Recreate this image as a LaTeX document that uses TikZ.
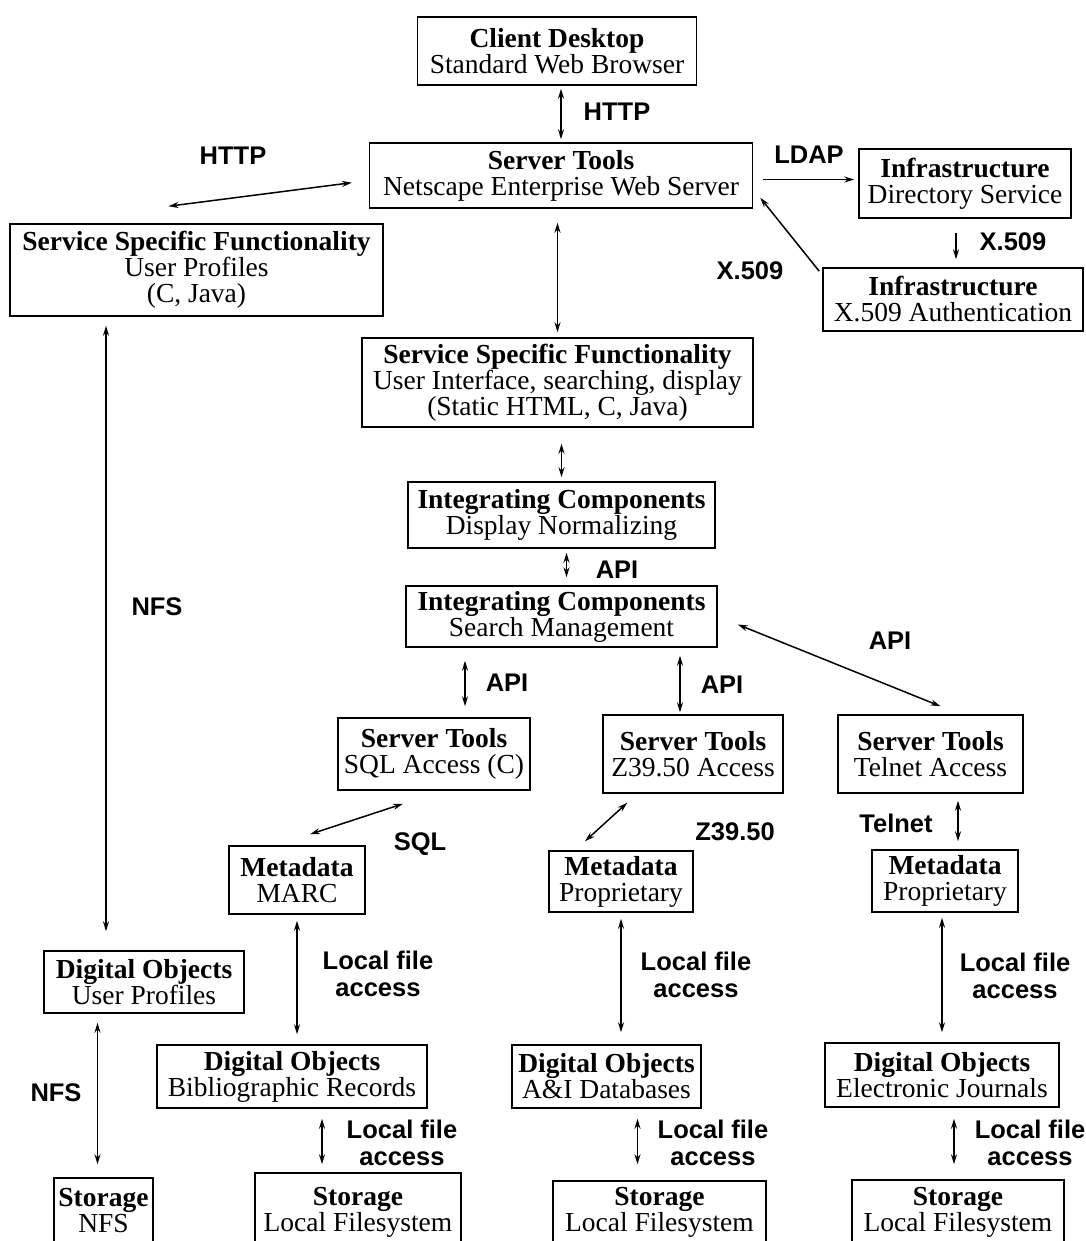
\documentclass[tikz,border=0pt]{standalone}
\usepackage{fontspec}
\setmainfont{Liberation Serif}
\newfontfamily\labelfont{Liberation Sans}
\usetikzlibrary{arrows.meta}

\begin{document}
\begin{tikzpicture}[x=1pt, y=-1pt,
    box/.style={draw, line width=1.5pt, align=center, inner sep=0pt, font=\fontsize{27.5}{26}\selectfont},
    lab/.style={font=\labelfont\bfseries\fontsize{25.5}{27}\selectfont, align=center},
    conn/.style={{Stealth[length=10pt,width=6pt]}-{Stealth[length=10pt,width=6pt]}, line width=1.5pt},
    oneway/.style={-{Stealth[length=10pt,width=6pt]}, line width=1.5pt}]
    \useasboundingbox (0,0) rectangle (1085,1241);
    % boxes
    \node [box, minimum width=279pt, minimum height=68pt] (client) at (557,51) {\textbf{Client Desktop}\\Standard Web Browser};
    \node [box, minimum width=383pt, minimum height=65pt] (webserver) at (561,175.5) {\textbf{Server Tools}\\Netscape Enterprise Web Server};
    \node [box, minimum width=373pt, minimum height=92pt] (ssfUser) at (196.5,270) {\textbf{Service Specific Functionality}\\User Profiles\\(C, Java)};
    \node [box, minimum width=212pt, minimum height=69pt] (infraDir) at (965,183.5) {\textbf{Infrastructure}\\Directory Service};
    \node [box, minimum width=260pt, minimum height=63pt] (infraX) at (953,299.5) {\textbf{Infrastructure}\\X.509 Authentication};
    \node [box, minimum width=391pt, minimum height=89pt] (ssfUI) at (557.5,382.5) {\textbf{Service Specific Functionality}\\User Interface, searching, display\\(Static HTML, C, Java)};
    \node [box, minimum width=307pt, minimum height=66pt] (icDisplay) at (561.5,515) {\textbf{Integrating Components}\\Display Normalizing};
    \node [box, minimum width=311pt, minimum height=61pt] (icSearch) at (561.5,616.5) {\textbf{Integrating Components}\\Search Management};
    \node [box, minimum width=192pt, minimum height=72pt] (stSQL) at (434,754) {\textbf{Server Tools}\\SQL Access (C)};
    \node [box, minimum width=180pt, minimum height=78pt] (stZ) at (693,754) {\textbf{Server Tools}\\Z39.50 Access};
    \node [box, minimum width=185pt, minimum height=78pt] (stTelnet) at (930.5,754) {\textbf{Server Tools}\\Telnet Access};
    \node [box, minimum width=136pt, minimum height=68pt] (mdMARC) at (297,880) {\textbf{Metadata}\\MARC};
    \node [box, minimum width=144pt, minimum height=61pt] (mdZ) at (621,881.5) {\textbf{Metadata}\\Proprietary};
    \node [box, minimum width=146pt, minimum height=62pt] (mdTelnet) at (945,881) {\textbf{Metadata}\\Proprietary};
    \node [box, minimum width=200pt, minimum height=62pt] (doUser) at (144,982) {\textbf{Digital Objects}\\User Profiles};
    \node [box, minimum width=270pt, minimum height=63pt] (doBib) at (292,1076.5) {\textbf{Digital Objects}\\Bibliographic Records};
    \node [box, minimum width=189pt, minimum height=63pt] (doAI) at (606.5,1076.5) {\textbf{Digital Objects}\\A\&I Databases};
    \node [box, minimum width=234pt, minimum height=64pt] (doEJ) at (942,1075) {\textbf{Digital Objects}\\Electronic Journals};
    \node [box, minimum width=99pt, minimum height=66pt] (stoNFS) at (103.5,1211) {\textbf{Storage}\\NFS};
    \node [box, minimum width=206pt, minimum height=78pt] (stoLocalA) at (358,1212) {\textbf{Storage}\\Local Filesystem};
    \node [box, minimum width=213pt, minimum height=62pt] (stoLocalB) at (659.5,1212) {\textbf{Storage}\\Local Filesystem};
    \node [box, minimum width=212pt, minimum height=64pt] (stoLocalC) at (958,1212) {\textbf{Storage}\\Local Filesystem};
    % labels
    \node [lab] (lHttpTop) at (617,112) {HTTP};
    \node [lab] (lHttpLeft) at (233,156) {HTTP};
    \node [lab] (lLdap) at (809,155) {LDAP};
    \node [lab] (lXDir) at (1013,242) {X.509};
    \node [lab] (lXAuth) at (750,271) {X.509};
    \node [lab] (lApiA) at (617,570) {API};
    \node [lab] (lApiB) at (507,683) {API};
    \node [lab] (lApiC) at (722,685) {API};
    \node [lab] (lApiD) at (890,641) {API};
    \node [lab] (lSql) at (420,844) {SQL};
    \node [lab] (lZ) at (735,832) {Z39.50};
    \node [lab] (lTelnet) at (896,823) {Telnet};
    \node [lab] (lNfsA) at (157,607) {NFS};
    \node [lab] (lNfsB) at (56,1093) {NFS};
    \node [lab] (lLocalA) at (378,974) {Local file\\access};
    \node [lab] (lLocalB) at (696,975) {Local file\\access};
    \node [lab] (lLocalC) at (1015,976) {Local file\\access};
    \node [lab] (lLocalD) at (402,1143) {Local file\\access};
    \node [lab] (lLocalE) at (713,1143) {Local file\\access};
    \node [lab] (lLocalF) at (1030,1143) {Local file\\access};
    % connectors
    \draw [conn, shorten <=3pt, shorten >=3pt] ([xshift=4pt]client.south) -- ([xshift=4pt]client.south |- webserver.north);
    \draw [conn, shorten <=17pt] ([yshift=-5pt]webserver.west) -- ([xshift=-28pt,yshift=17pt]ssfUser.north);
    \draw [oneway, shorten <=10pt, shorten >=4pt] ([yshift=-4pt]webserver.east) -- ([yshift=-4pt]webserver.east -| infraDir.west);
    \draw [oneway, shorten <=14pt, shorten >=8pt] ([xshift=-9pt]infraDir.south) -- ([xshift=-9pt]infraDir.south |- infraX.north);
    \draw [oneway] ([xshift=-3pt,yshift=-4pt]infraX.north west) -- ([xshift=7pt,yshift=11pt]webserver.south east);
    \draw [conn, shorten <=14pt, shorten >=5pt] (ssfUI.north |- webserver.south) -- (ssfUI.north);
    \draw [conn, shorten <=16pt, shorten >=4pt] (icDisplay.north |- ssfUI.south) -- (icDisplay.north);
    \draw [conn, shorten <=4pt, shorten >=8pt] ([xshift=5pt]icDisplay.south) -- ([xshift=5pt]icDisplay.south |- icSearch.north);
    \draw [conn, shorten <=13pt, shorten >=11pt] ([xshift=31pt]stSQL.north |- icSearch.south) -- ([xshift=31pt]stSQL.north);
    \draw [conn, shorten <=8pt, shorten >=2pt] ([xshift=-13pt]stZ.north |- icSearch.south) -- ([xshift=-13pt]stZ.north);
    \draw [conn] ([xshift=20pt,yshift=-8pt]icSearch.east) -- ([xshift=10pt,yshift=8pt]stTelnet.north);
    \draw [conn] ([xshift=-31pt,yshift=-13pt]stSQL.south) -- ([xshift=13pt,yshift=11pt]mdMARC.north);
    \draw [conn] ([xshift=25pt,yshift=-9pt]stZ.south west) -- ([xshift=-36pt,yshift=9pt]mdZ.north);
    \draw [conn, shorten <=7pt, shorten >=8pt] ([xshift=13pt]mdTelnet.north |- stTelnet.south) -- ([xshift=13pt]mdTelnet.north);
    \draw [conn, shorten <=6pt, shorten >=10pt] (mdMARC.south) -- (mdMARC.south |- doBib.north);
    \draw [conn, shorten <=6pt, shorten >=12pt] (mdZ.south) -- (mdZ.south |- doAI.north);
    \draw [conn, shorten <=5pt, shorten >=10pt] (doEJ.north |- mdTelnet.south) -- (doEJ.north);
    \draw [conn, shorten <=9pt, shorten >=19pt] ([xshift=-38pt]doUser.north |- ssfUser.south) -- ([xshift=-38pt]doUser.north);
    \draw [conn, shorten <=9pt, shorten >=13pt] ([xshift=-6pt]stoNFS.north |- doUser.south) -- ([xshift=-6pt]stoNFS.north);
    \draw [conn, shorten <=10pt, shorten >=8pt] ([xshift=-36pt]stoLocalA.north |- doBib.south) -- ([xshift=-36pt]stoLocalA.north);
    \draw [conn, shorten <=10pt, shorten >=16pt] ([xshift=-22pt]stoLocalB.north |- doAI.south) -- ([xshift=-22pt]stoLocalB.north);
    \draw [conn, shorten <=11pt, shorten >=15pt] ([xshift=-4pt]stoLocalC.north |- doEJ.south) -- ([xshift=-4pt]stoLocalC.north);
\end{tikzpicture}
\end{document}
